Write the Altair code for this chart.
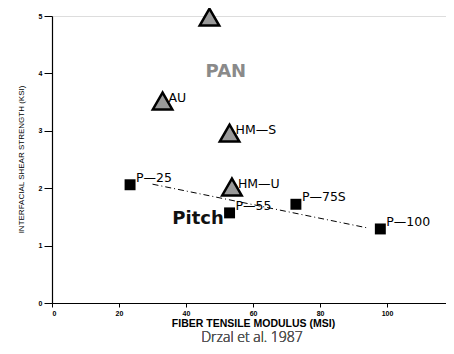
import altair as alt
import pandas as pd

pan_names = ["", "AU", "HM—S", "HM—U"]
pan_modulus = [47, 33, 53, 53.7]
pan_iss = [4.98, 3.52, 2.96, 2.02]

pitch_names = ["P—25", "P—55", "P—75S", "P—100"]
pitch_modulus = [23.3, 53, 72.8, 98]
pitch_iss = [2.06, 1.57, 1.72, 1.29]

trend_modulus = [30, 94]
trend_iss = [2.07, 1.31]

group_names = ["PAN", "Pitch"]
group_modulus = [51.9, 43.6]
group_iss = [4.02, 1.46]
group_colors = ["#8a8a8a", "#111111"]

x_ticks = [0, 20, 40, 60, 80, 100]
y_ticks = [0, 1, 2, 3, 4, 5]

pan = pd.DataFrame({"m": pan_modulus, "s": pan_iss, "n": pan_names})
pitch = pd.DataFrame({"m": pitch_modulus, "s": pitch_iss, "n": pitch_names})
trend = pd.DataFrame({"m": trend_modulus, "s": trend_iss})
groups = pd.DataFrame({"m": group_modulus, "s": group_iss, "n": group_names, "c": group_colors})

W, H = 394, 287
xs = alt.Scale(domain=[0, 117.6], nice=False, zero=False)
ys = alt.Scale(domain=[0, 5], nice=False)

X = alt.X("m:Q", scale=xs, axis=alt.Axis(
    values=x_ticks, format="d", title="FIBER TENSILE MODULUS (MSI)", grid=False,
    domainColor="black", domainWidth=1.2, tickColor="black", tickSize=4,
    labelFont="Liberation Sans", labelFontWeight="bold", labelFontSize=7,
    labelColor="black", labelPadding=2,
    titleFont="Liberation Sans", titleFontSize=10.5, titleFontWeight="bold",
    titleColor="black", titleX=201, titleY=20, titleBaseline="middle",
    titleAnchor="start", titleAlign="center"))
Y = alt.Y("s:Q", scale=ys, axis=alt.Axis(
    values=y_ticks, format="d", title="INTERFACIAL SHEAR STRENGTH (KSI)", grid=False,
    domainColor="black", domainWidth=1.2, tickColor="black", tickSize=8,
    labelFont="Liberation Sans", labelFontWeight="bold", labelFontSize=7,
    labelColor="black", labelPadding=2,
    titleFont="Liberation Sans", titleFontSize=8, titleFontWeight="normal",
    titleColor="black", titleX=-31, titleY=143, titleAngle=-90,
    titleBaseline="middle", titleAlign="center", titleAnchor="start"))

base_x = alt.X("m:Q", scale=xs)
base_y = alt.Y("s:Q", scale=ys)

axes = alt.Chart(pitch).mark_point(opacity=0).encode(x=X, y=Y)

trend_line = alt.Chart(trend).mark_line(
    color="black", strokeWidth=1, strokeDash=[6, 3, 1, 3]
).encode(x=base_x, y=base_y)

pitch_labels = alt.Chart(pitch).mark_text(
    align="left", baseline="middle", dx=6, dy=-7, fontSize=12.5,
    font="DejaVu Sans", color="black"
).encode(x=base_x, y=base_y, text="n:N")

pan_labels = alt.Chart(pan).mark_text(
    align="left", baseline="middle", dx=6, dy=-3, fontSize=12.5,
    font="DejaVu Sans", color="black"
).encode(x=base_x, y=base_y, text="n:N")

squares = alt.Chart(pitch).mark_point(
    shape="square", filled=True, color="black", size=120, opacity=1
).encode(x=base_x, y=base_y)

triangles = alt.Chart(pan).mark_point(
    shape="triangle-up", filled=True, fill="#999999", stroke="black",
    strokeWidth=2.5, size=380, opacity=1
).encode(x=base_x, y=base_y)

group_text = alt.Chart(groups).mark_text(
    fontSize=18, fontWeight="bold", font="DejaVu Sans", baseline="middle"
).encode(x=base_x, y=base_y, text="n:N",
         color=alt.Color("c:N", scale=None))

caption = alt.Chart(pitch).mark_text(
    text="Drzal et al. 1987", fontSize=14, font="Open Sans", fontWeight=300,
    color="#555555", baseline="middle"
).encode(x=alt.value(200), y=alt.value(322))

chart = alt.layer(
    axes, trend_line, pitch_labels, pan_labels, squares, triangles, group_text, caption
).properties(
    width=W, height=H,
    autosize=alt.AutoSizeParams(type="none"),
    padding={"left": 44, "top": 8, "right": 0, "bottom": 43},
).configure_view(stroke=None).configure(background="white")

chart.save("out.html", embed_options={"renderer": "svg", "actions": False})
